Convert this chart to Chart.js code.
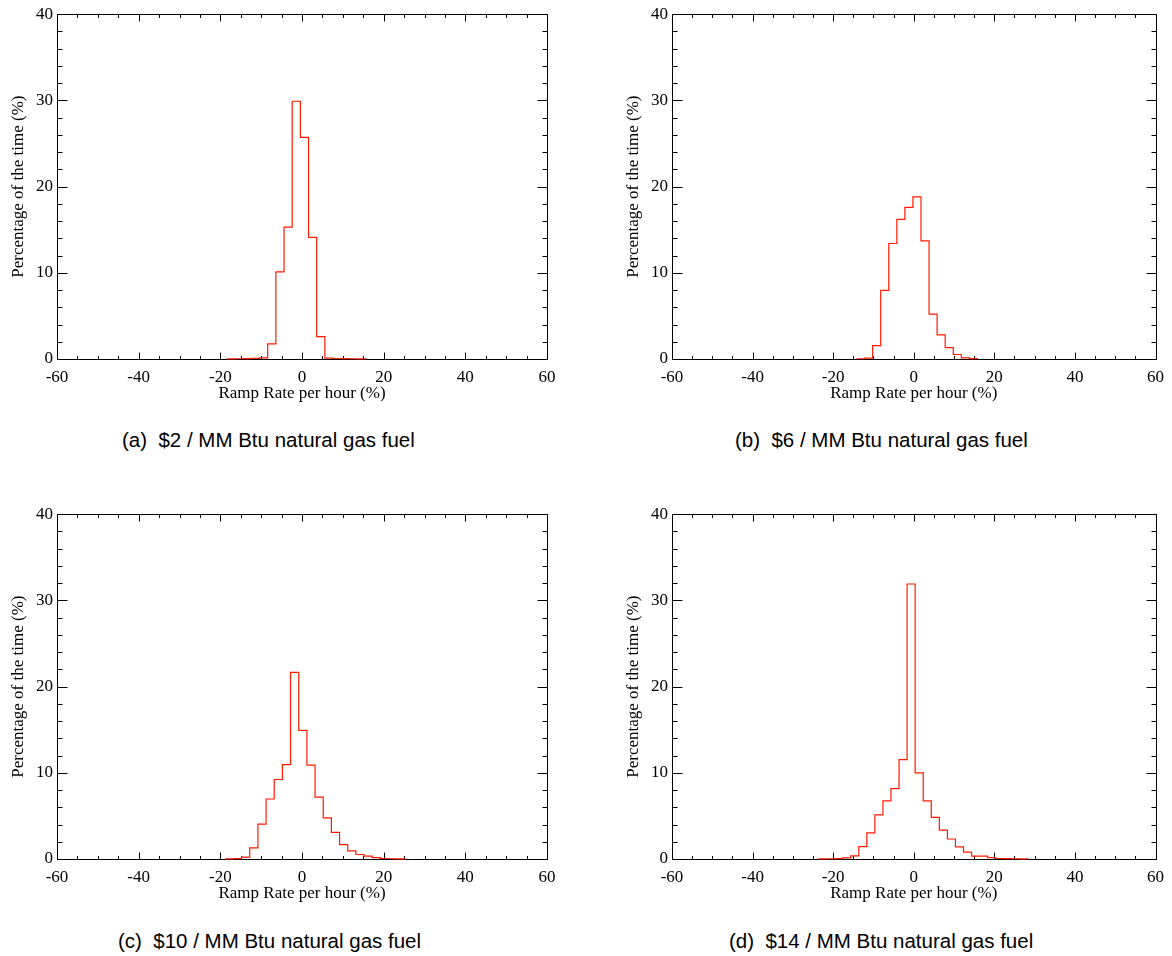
<!DOCTYPE html>
<html><head><meta charset="utf-8">
<script src="https://cdn.jsdelivr.net/npm/chart.js@4.4.0/dist/chart.umd.min.js"></script>
<style>
body{margin:0;background:#fff;width:1172px;height:956px;position:relative;overflow:hidden}
canvas{position:absolute}
.cap{position:absolute;font-family:"Liberation Sans",Arial,sans-serif;font-size:20.5px;line-height:20px;color:#000;white-space:pre}
</style></head><body>
<canvas id="ca" width="572" height="410" style="left:0;top:0"></canvas>
<canvas id="cb" width="557" height="410" style="left:615px;top:0"></canvas>
<canvas id="cc" width="572" height="410" style="left:0;top:500px"></canvas>
<canvas id="cd" width="557" height="410" style="left:615px;top:500px"></canvas>
<div class="cap" style="left:122px;top:430px">(a)  $2 / MM Btu natural gas fuel</div>
<div class="cap" style="left:735px;top:430px">(b)  $6 / MM Btu natural gas fuel</div>
<div class="cap" style="left:118px;top:931px">(c)  $10 / MM Btu natural gas fuel</div>
<div class="cap" style="left:729px;top:931px">(d)  $14 / MM Btu natural gas fuel</div>
<script>
// Bin edges (ramp rate, % per hour) and histogram heights (% of time)
const edgesA = [-18.4,-16.4,-14.4,-12.4,-10.4,-8.4,-6.4,-4.4,-2.4,-0.4,1.6,3.6,5.6,7.6,9.6,11.6,13.6,15.6];
const valuesA = [0.02,0.03,0.05,0.08,0.12,1.75,10.1,15.3,29.9,25.7,14.1,2.6,0.1,0.06,0.04,0.03,0.02];

const edgesB = [-14.2,-12.2,-10.2,-8.2,-6.2,-4.2,-2.2,-0.2,1.8,3.8,5.8,7.8,9.8,11.8,13.8,15.8];
const valuesB = [0.03,0.1,1.56,7.97,13.4,16.2,17.6,18.8,13.7,5.2,2.8,1.33,0.52,0.14,0.05];

const edgesC = [-18.8,-16.8,-14.8,-12.8,-10.8,-8.8,-6.8,-4.8,-2.8,-0.8,1.2,3.2,5.2,7.2,9.2,11.2,13.2,15.2,17.2,19.2,21.2,23.2,25.2];
const valuesC = [0.02,0.05,0.21,1.29,4.05,6.96,9.22,10.95,21.65,14.93,10.89,7.17,4.78,3.09,1.67,0.94,0.52,0.33,0.17,0.06,0.03,0.02];

const edgesD = [-23.65,-21.65,-19.65,-17.65,-15.65,-13.65,-11.65,-9.65,-7.65,-5.65,-3.65,-1.65,0.35,2.35,4.35,6.35,8.35,10.35,12.35,14.35,16.35,18.35,20.35,22.35,24.35,26.35,28.35];
const valuesD = [0.02,0.03,0.04,0.13,0.36,1.44,3.02,5.13,6.74,8.16,11.54,31.9,10.0,6.74,4.82,3.36,2.32,1.40,0.79,0.33,0.33,0.17,0.06,0.04,0.03,0.02];

const xRange = [-60, 60];
const yRange = [0, 40];
const xMajorStep = 20, xMinorStep = 5;
const yMajorStep = 10, yMinorStep = 2;
const xTitle = 'Ramp Rate per hour (%)';
const yTitle = 'Percentage of the time (%)';

const serif = {family:'"Liberation Serif","Times New Roman",serif', size:17};

const frame = {
  id:'frame',
  beforeDatasetsDraw(chart){
    const {ctx, chartArea:a, scales:{x,y}} = chart;
    const px = v => Math.round(v) + 0.5;
    const L = px(a.left), R = px(a.right), T = px(a.top), B = px(a.bottom);
    ctx.save();
    ctx.strokeStyle = '#000'; ctx.lineWidth = 1;
    ctx.beginPath();
    ctx.rect(L, T, R - L, B - T);
    for (let v = xRange[0]; v <= xRange[1]; v += xMinorStep) {
      const xp = px(x.getPixelForValue(v));
      const len = (v % xMajorStep === 0) ? 7 : 3.5;
      ctx.moveTo(xp, B); ctx.lineTo(xp, B - len);
      ctx.moveTo(xp, T); ctx.lineTo(xp, T + len);
    }
    for (let v = yRange[0]; v <= yRange[1]; v += yMinorStep) {
      const yp = px(y.getPixelForValue(v));
      const len = (v % yMajorStep === 0) ? 10 : 5;
      ctx.moveTo(L, yp); ctx.lineTo(L + len, yp);
      ctx.moveTo(R, yp); ctx.lineTo(R - len, yp);
    }
    ctx.stroke();
    ctx.restore();
  }
};

function makeChart(id, edges, values, padRight){
  const pts = values.map((v, i) => ({x: edges[i], y: v}));
  pts.push({x: edges[edges.length - 1], y: 0});
  return new Chart(document.getElementById(id), {
    type: 'line',
    data: {datasets: [{data: pts, stepped: 'before', borderColor: '#ff1a00', borderWidth: 1.2,
      pointRadius: 0, fill: false, clip: 2}]},
    options: {
      responsive: false, animation: false,
      layout: {padding: {top: 12, right: padRight, left: 0, bottom: 0}},
      plugins: {legend: {display: false}, tooltip: {enabled: false}},
      scales: {
        x: {type: 'linear', min: xRange[0], max: xRange[1],
            ticks: {stepSize: xMajorStep, font: serif, color: '#000', padding: 8, maxRotation: 0, autoSkip: false},
            grid: {display: false, drawTicks: false}, border: {display: false},
            title: {display: true, text: xTitle, font: serif, color: '#000', padding: {top: 0, bottom: 6}},
            afterFit(s){ s.height = 51; }},
        y: {min: yRange[0], max: yRange[1],
            ticks: {stepSize: yMajorStep, font: serif, color: '#000', padding: 4},
            grid: {display: false, drawTicks: false}, border: {display: false},
            title: {display: true, text: yTitle, font: serif, color: '#000', padding: {top: 8, bottom: 0}},
            afterFit(s){ s.width = 57; }}
      }
    },
    plugins: [frame]
  });
}

makeChart('ca', edgesA, valuesA, 25);
makeChart('cb', edgesB, valuesB, 10);
makeChart('cc', edgesC, valuesC, 25);
makeChart('cd', edgesD, valuesD, 10);
</script>
</body></html>
